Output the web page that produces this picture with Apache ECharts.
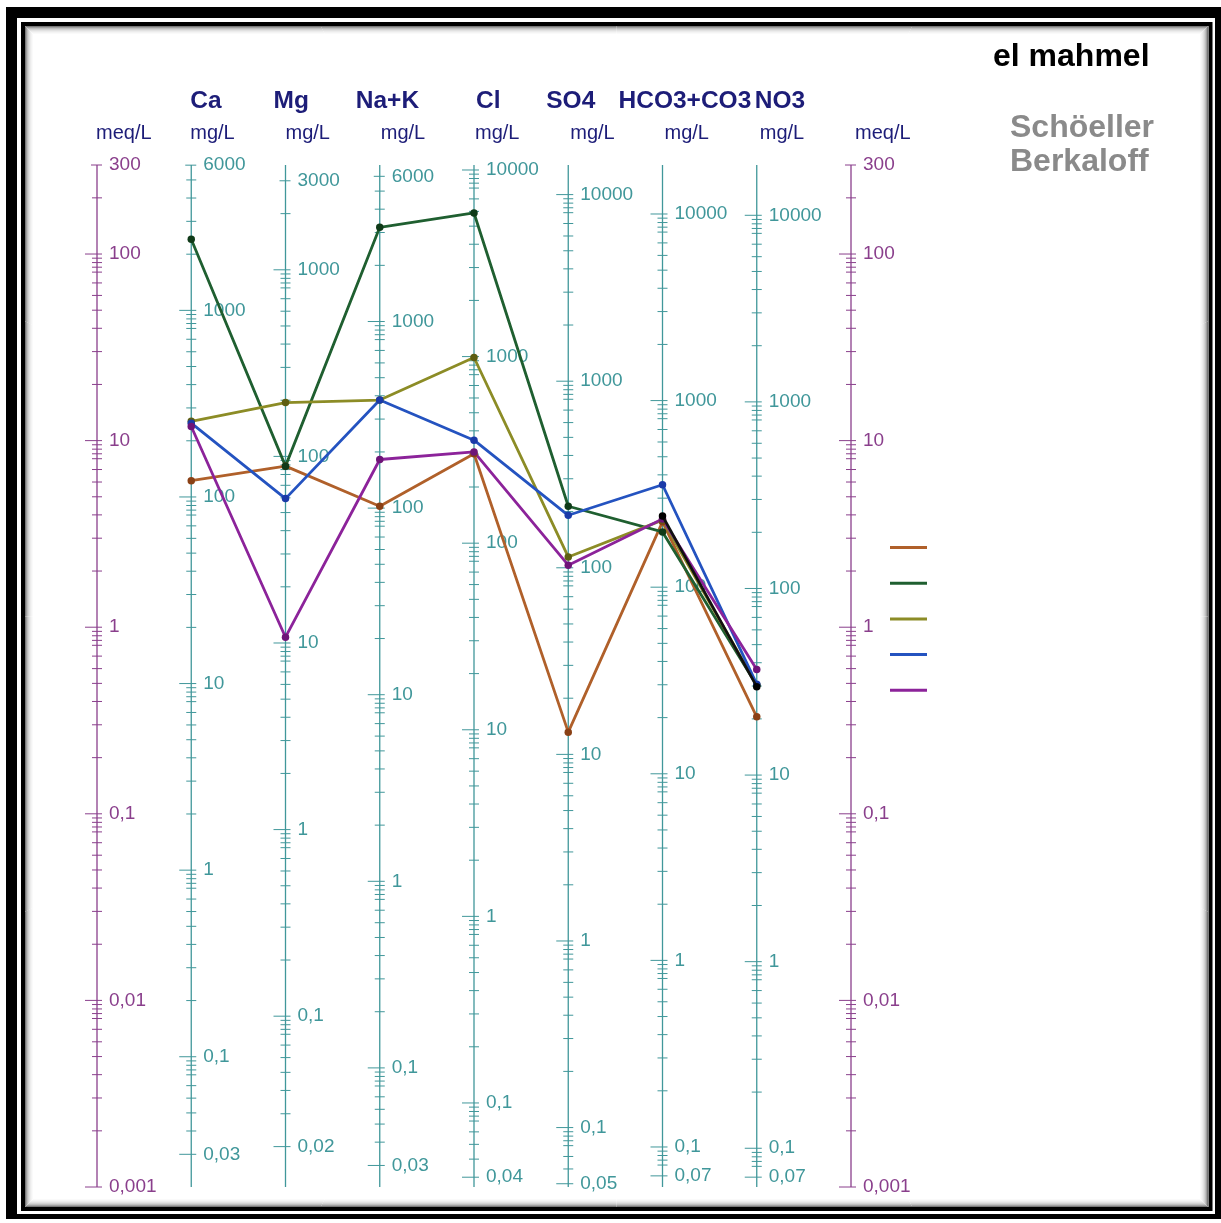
<!DOCTYPE html>
<html>
<head>
<meta charset="utf-8">
<script src="https://cdn.jsdelivr.net/npm/echarts@6/dist/echarts.min.js"></script>
<style>
  html, body { margin: 0; padding: 0; background: #ffffff; }
  #chart { width: 1221px; height: 1223px; }
</style>
</head>
<body>
<div id="chart"></div>
<script>
// ---- Scales of the Schoeller-Berkaloff diagram (left meq/L, seven ions in mg/L, right meq/L)
const scaleHeaders = ['', 'Ca', 'Mg', 'Na+K', 'Cl', 'SO4', 'HCO3+CO3', 'NO3', ''];
const scaleUnits = ['meq/L', 'mg/L', 'mg/L', 'mg/L', 'mg/L', 'mg/L', 'mg/L', 'mg/L', 'meq/L'];
// equivalent weight of each ion (mg per meq); 1 for the meq/L scales
const eqWeights = [1, 20.04, 12.15, 23.0, 35.45, 48.03, 61.02, 62.0, 1];
// labelled end values of each scale
const topTickLabels = [300, 6000, 3000, 6000, 10000, 10000, 10000, 10000, 300];
const bottomTickLabels = [0.001, 0.03, 0.02, 0.03, 0.04, 0.05, 0.07, 0.07, 0.001];
// minor tick multipliers inside each decade
const minorMultipliers = [2, 3, 4, 5, 6, 7, 8, 8.5, 9, 9.5];

// ---- Samples, concentrations in meq/L for Ca, Mg, Na+K, Cl, SO4, HCO3+CO3, NO3
const sampleNames = ['P1', 'P2', 'P3', 'P4', 'P5'];
const sampleP1 = [6.1, 7.3, 4.45, 8.5, 0.274, 3.67, 0.331];
const sampleP2 = [120, 7.3, 139, 166, 4.45, 3.24, 0.489];
const sampleP3 = [12.7, 16.0, 16.5, 27.9, 2.38, 3.75, 0.49];
const sampleP4 = [12.4, 4.89, 16.5, 10.05, 3.98, 5.8, 0.495];
const sampleP5 = [11.9, 0.884, 7.92, 8.7, 2.15, 3.8, 0.593];
// extra trace drawn in black (anions only)
const sampleBlack = [null, null, null, null, null, 3.95, 0.48];

// ---- styling
const FONT = '"Liberation Sans", Arial, sans-serif';
const MEQ_COLOR = '#8a3f8c';
const MG_COLOR = '#40979a';
const HEAD_COLOR = '#1d1d78';
const lineColors = ['#b0602a', '#1f5f30', '#8c8c26', '#2453c0', '#8c239a'];
const dotColors = ['#8a4015', '#0f3a18', '#5e5e12', '#1a3aa8', '#6e1478'];
const headerDx = [0, -1, -12, -24, 2, -22, -44, -2, 0];
const unitDx = [-1, -1, 0, 1, 1, 2, 2, 3, 4];

const sampleValues = [sampleP1, sampleP2, sampleP3, sampleP4, sampleP5];

function fmt(v) {
  return String(Number(v.toPrecision(6))).replace('.', ',');
}

function renderScale(params, api) {
  const i = api.value(0);
  const w = eqWeights[i];
  const isMeq = (i === 0 || i === 8);
  const color = isMeq ? MEQ_COLOR : MG_COLOR;
  const top = api.coord([i, 300]);
  const bottom = api.coord([i, 0.001]);
  const x = top[0];
  const yOf = function (v) { return api.coord([i, v / w])[1]; };
  const lo = bottomTickLabels[i], hi = topTickLabels[i];
  const children = [];
  children.push({
    type: 'line',
    shape: { x1: x, y1: top[1], x2: x, y2: bottom[1] },
    style: { stroke: color, lineWidth: 1.3 }
  });
  function tick(y, l, r) {
    children.push({
      type: 'line',
      shape: { x1: x - l, y1: y, x2: x + r, y2: y },
      style: { stroke: color, lineWidth: 1 }
    });
  }
  // minor ticks
  for (let k = -3; k <= 5; k++) {
    const base = Math.pow(10, k);
    minorMultipliers.forEach(function (m) {
      const v = m * base;
      if (v > lo * 1.001 && v < hi * 0.999) tick(yOf(v), 5, 5);
    });
  }
  // labelled ticks: powers of ten inside the range plus both end labels
  const labelled = [];
  for (let k = -3; k <= 5; k++) {
    const v = Math.pow(10, k);
    if (v >= lo * 0.999 && v <= hi * 1.001) labelled.push(v);
  }
  if (labelled.indexOf(lo) < 0) labelled.push(lo);
  if (labelled.indexOf(hi) < 0) labelled.push(hi);
  labelled.forEach(function (v) {
    const y = yOf(v);
    if (v === hi && Math.abs(Math.log10(v) - Math.round(Math.log10(v))) > 1e-6) tick(y, 6, 5);
    else tick(y, 12, 5);
    children.push({
      type: 'text',
      style: {
        text: fmt(v), x: x + 12, y: y,
        fill: color, fontSize: 19, fontFamily: FONT,
        align: 'left', verticalAlign: 'middle'
      }
    });
  });
  // unit and ion header
  children.push({
    type: 'text',
    style: {
      text: scaleUnits[i], x: x + unitDx[i], y: top[1] - 32,
      fill: HEAD_COLOR, fontSize: 20, fontFamily: FONT,
      align: 'left', verticalAlign: 'middle'
    }
  });
  if (scaleHeaders[i]) {
    children.push({
      type: 'text',
      style: {
        text: scaleHeaders[i], x: x + headerDx[i], y: top[1] - 64,
        fill: HEAD_COLOR, fontSize: 24.5, fontWeight: 'bold', fontFamily: FONT,
        align: 'left', verticalAlign: 'middle'
      }
    });
  }
  return { type: 'group', children: children };
}

// frame: thick outer border, thin inner border with soft inner shade
const frame = [
  { type: 'rect', shape: { x: 6, y: 7, width: 1215, height: 11 }, style: { fill: '#000' } },
  { type: 'rect', shape: { x: 6, y: 7, width: 11, height: 1212 }, style: { fill: '#000' } },
  { type: 'rect', shape: { x: 1215, y: 7, width: 6, height: 1212 }, style: { fill: '#000' } },
  { type: 'rect', shape: { x: 6, y: 1214, width: 1215, height: 5 }, style: { fill: '#000' } },
  { type: 'rect', shape: { x: 23, y: 24, width: 1187.5, height: 1185 }, style: { fill: 'none', stroke: '#000', lineWidth: 4 } }
];
const shadeLevels = [120, 160, 190, 210, 225, 236, 244, 250];
shadeLevels.forEach(function (g, k) {
  frame.push({
    type: 'rect',
    shape: { x: 25.5 + k, y: 26.5 + k, width: 1182 - 2 * k, height: 1180 - 2 * k },
    style: { fill: 'none', stroke: 'rgb(' + g + ',' + g + ',' + g + ')', lineWidth: 1 }
  });
});

const lineSeries = sampleValues.map(function (vals, s) {
  return {
    name: sampleNames[s],
    type: 'line',
    z: 3,
    data: vals.map(function (v, j) { return [j + 1, v]; }),
    symbol: 'circle',
    symbolSize: 7.5,
    lineStyle: { color: lineColors[s], width: 2.8 },
    itemStyle: { color: dotColors[s] },
    emphasis: { disabled: true }
  };
});
lineSeries.push({
  name: 'black',
  type: 'line',
  z: 4,
  data: sampleBlack.map(function (v, j) { return [j + 1, v]; }),
  symbol: 'circle',
  symbolSize: 7.5,
  lineStyle: { color: '#111', width: 2.8 },
  itemStyle: { color: '#000' },
  emphasis: { disabled: true }
});

const chart = echarts.init(document.getElementById('chart'), null, { renderer: 'canvas' });
chart.setOption({
  animation: false,
  backgroundColor: '#ffffff',
  title: [
    { text: 'el mahmel', left: 993, top: 39, padding: 0,
      textStyle: { fontSize: 32, fontWeight: 'bold', color: '#000', fontFamily: FONT, lineHeight: 36 } },
    { text: 'Schöeller\nBerkaloff', left: 1010, top: 111, padding: 0,
      textStyle: { fontSize: 32, fontWeight: 'bold', color: '#8a8a8a', fontFamily: FONT, lineHeight: 34 } }
  ],
  legend: {
    orient: 'vertical',
    left: 890,
    top: 546,
    padding: 0,
    itemWidth: 37,
    itemHeight: 3,
    itemGap: 32.7,
    icon: 'rect',
    formatter: function () { return ''; },
    textStyle: { fontSize: 1, lineHeight: 1 },
    data: sampleNames.map(function (n, s) { return { name: n, itemStyle: { color: lineColors[s] } }; }),
    selectedMode: false
  },
  graphic: frame,
  grid: { left: 97, right: 370, top: 165, bottom: 36 },
  xAxis: { type: 'value', min: 0, max: 8, show: false },
  yAxis: { type: 'log', logBase: 10, min: 0.001, max: 300, show: false },
  series: [{
    type: 'custom',
    z: 1,
    silent: true,
    renderItem: renderScale,
    data: eqWeights.map(function (w, i) { return [i, 1]; })
  }].concat(lineSeries)
});
</script>
</body>
</html>
